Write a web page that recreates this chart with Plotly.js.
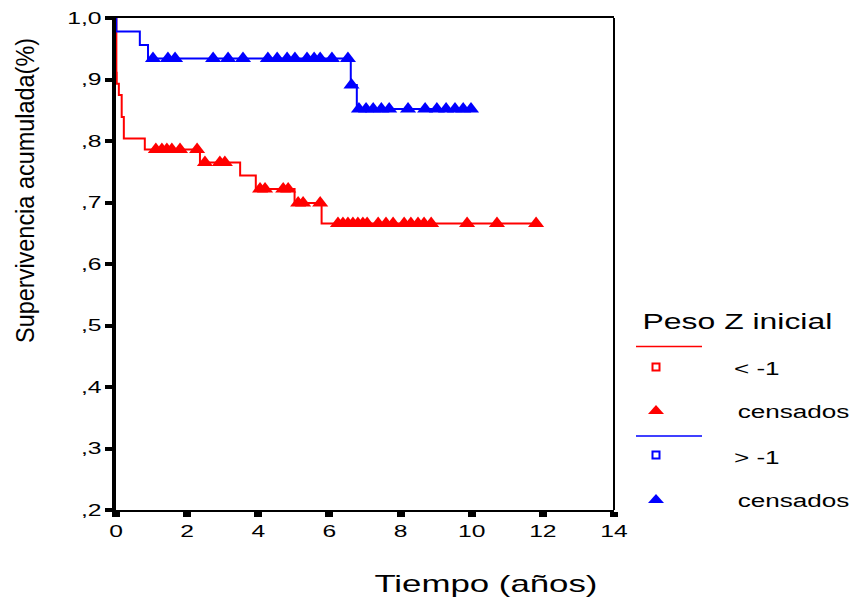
<!DOCTYPE html>
<html>
<head>
<meta charset="utf-8">
<script src="https://cdn.plot.ly/plotly-3.0.1.min.js"></script>
<style>
  html, body { margin: 0; padding: 0; background: #fff; }
  #chart { width: 853px; height: 601px; }
</style>
</head>
<body>
<div id="chart"></div>
<script>
// Kaplan-Meier survival by initial weight Z-score (Peso Z inicial)

// Group "< -1": event times (years) and cumulative survival after each step
const redStepTimes = [0, 0.01, 0.02, 0.08, 0.16, 0.22, 0.81, 2.36, 3.49, 3.93, 5.02, 5.78];
const redStepSurv  = [1.0, 0.911, 0.893, 0.875, 0.839, 0.804, 0.786, 0.765, 0.744, 0.722, 0.699, 0.666];
// Group "< -1": censored times
const redCensTimes = [1.12, 1.29, 1.43, 1.57, 1.80, 2.28, 2.50, 2.92, 3.06,
                      4.05, 4.19, 4.70, 4.84, 5.12, 5.26, 5.74,
                      6.24, 6.38, 6.52, 6.66, 6.80, 6.94, 7.06, 7.37, 7.59, 7.79,
                      8.10, 8.29, 8.49, 8.66, 8.86, 9.87, 10.71, 11.81];

// Group "> -1": event times and cumulative survival
const blueStepTimes = [0, 0.01, 0.67, 0.90, 6.60, 6.77];
const blueStepSurv  = [1.0, 0.978, 0.956, 0.934, 0.891, 0.852];
// Group "> -1": censored times
const blueCensTimes = [1.04, 1.46, 1.66, 2.73, 3.15, 3.57, 4.27, 4.53, 4.81, 5.03,
                       5.37, 5.57, 5.74, 6.07, 6.52, 6.62,
                       6.83, 7.03, 7.23, 7.46, 7.68, 8.21, 8.69, 9.02, 9.28, 9.53, 9.76, 9.98];

// Axis ticks
const xTickVals = [0, 2, 4, 6, 8, 10, 12, 14];
const yTickVals = [0.2, 0.3, 0.4, 0.5, 0.6, 0.7, 0.8, 0.9, 1.0];
const yTickText = [",2", ",3", ",4", ",5", ",6", ",7", ",8", ",9", "1,0"];

// Titles and legend labels
const yTitle = "Supervivencia acumulada(%)";
const xTitle = "Tiempo (años)";
const legendTitle = "Peso Z inicial";
const groupLabels = ["< -1", "> -1"];
const censLabel = "censados";

const RED = "rgb(255,0,0)";
const BLUE = "rgb(0,0,255)";
const FONT = "Liberation Sans, Arial, sans-serif";

// survival level of a step curve at time t
function levelAt(times, surv, t) {
  let s = surv[0];
  for (let i = 0; i < times.length; i++) {
    if (times[i] <= t) s = surv[i];
  }
  return s;
}

// step curve extended to the last follow-up time
function curve(times, surv, lastT) {
  return {
    x: times.concat([lastT]),
    y: surv.concat([surv[surv.length - 1]])
  };
}

const redCurve = curve(redStepTimes, redStepSurv, redCensTimes[redCensTimes.length - 1]);
const blueCurve = curve(blueStepTimes, blueStepSurv, blueCensTimes[blueCensTimes.length - 1]);

const traces = [
  { x: redCurve.x, y: redCurve.y, mode: "lines", line: { shape: "hv", color: RED, width: 2 }, hoverinfo: "skip" },
  { x: blueCurve.x, y: blueCurve.y, mode: "lines", line: { shape: "hv", color: BLUE, width: 2 }, hoverinfo: "skip" },
  { x: redCensTimes, y: redCensTimes.map(t => levelAt(redStepTimes, redStepSurv, t)),
    mode: "markers", marker: { symbol: "triangle-up", size: 14, color: RED, line: { width: 0 } }, hoverinfo: "skip" },
  { x: blueCensTimes, y: blueCensTimes.map(t => levelAt(blueStepTimes, blueStepSurv, t)),
    mode: "markers", marker: { symbol: "triangle-up", size: 14, color: BLUE, line: { width: 0 } }, hoverinfo: "skip" }
];

// plot box in pixels
const L = 116, R = 614, T = 18, B = 510;
const px = x => (x - L) / (R - L);
const py = y => (B - y) / (B - T);

function legendLine(y, color) {
  return { type: "line", xref: "paper", yref: "paper", x0: px(636), x1: px(702), y0: py(y), y1: py(y),
           line: { color: color, width: 1.5 } };
}
function legendSquare(cx, cy, color) {
  return { type: "rect", xref: "paper", yref: "paper", x0: px(cx - 3.5), x1: px(cx + 3.5), y0: py(cy - 3.5), y1: py(cy + 3.5),
           line: { color: color, width: 2 }, fillcolor: "white" };
}
function legendTriangle(cx, cy, color) {
  const p = `M${px(cx - 8)},${py(cy + 4)} L${px(cx + 8)},${py(cy + 4)} L${px(cx)},${py(cy - 5)} Z`;
  return { type: "path", xref: "paper", yref: "paper", path: p, fillcolor: color, line: { color: color, width: 0 } };
}
function label(text, cx, cy, size, extra) {
  return Object.assign({ text: text, xref: "paper", yref: "paper", x: px(cx), y: py(cy),
           xanchor: "center", yanchor: "middle", showarrow: false,
           font: { family: FONT, size: size, color: "black" } }, extra || {});
}

const layout = {
  width: 853, height: 601,
  margin: { l: L, r: 853 - R, t: T, b: 601 - B },
  paper_bgcolor: "white", plot_bgcolor: "white",
  showlegend: false,
  xaxis: {
    range: [0, 14], tickvals: xTickVals, ticktext: xTickVals.map(String),
    showgrid: false, zeroline: false, showline: true, linecolor: "black", linewidth: 2, mirror: true,
    ticks: "outside", ticklen: 5, tickwidth: 8, tickcolor: "black",
    tickfont: { family: FONT, size: 17, color: "black" }
  },
  yaxis: {
    range: [0.2, 1.0], tickvals: yTickVals, ticktext: yTickText,
    showgrid: false, zeroline: false, showline: true, linecolor: "black", linewidth: 4,
    ticks: "outside", ticklen: 7, tickwidth: 4, tickcolor: "black",
    tickfont: { family: FONT, size: 17, color: "black" }
  },
  shapes: [
    { type: "line", xref: "paper", yref: "paper", x0: 1, x1: 1, y0: 0, y1: 1, line: { color: "black", width: 2 } },
    legendLine(346.5, RED), legendSquare(656, 367, RED), legendTriangle(656, 410, RED),
    legendLine(436, BLUE), legendSquare(656, 455, BLUE), legendTriangle(656, 499, BLUE)
  ],
  annotations: [
    label(yTitle, 25, 191, 25, { textangle: -90 }),
    label(xTitle, 486, 583, 24),
    label(legendTitle, 737, 321, 22),
    label(groupLabels[0], 757, 369, 18),
    label(censLabel, 793, 412, 18),
    label(groupLabels[1], 757, 458, 18),
    label(censLabel, 793, 501, 18)
  ]
};

// horizontal texts use a wide lettering; the vertical title a narrow one
function shapeText() {
  const WIDE = 1.45;
  document.querySelectorAll("#chart .xtick text, #chart .ytick text, #chart .annotation-text").forEach(el => {
    const vertical = el.textContent === yTitle;
    const w = el.getComputedTextLength();
    el.setAttribute("textLength", (vertical ? 305 : w * WIDE).toFixed(1));
    el.setAttribute("lengthAdjust", "spacingAndGlyphs");
  });
}

Plotly.newPlot("chart", traces, layout, { displayModeBar: false, staticPlot: true }).then(shapeText);
</script>
</body>
</html>
